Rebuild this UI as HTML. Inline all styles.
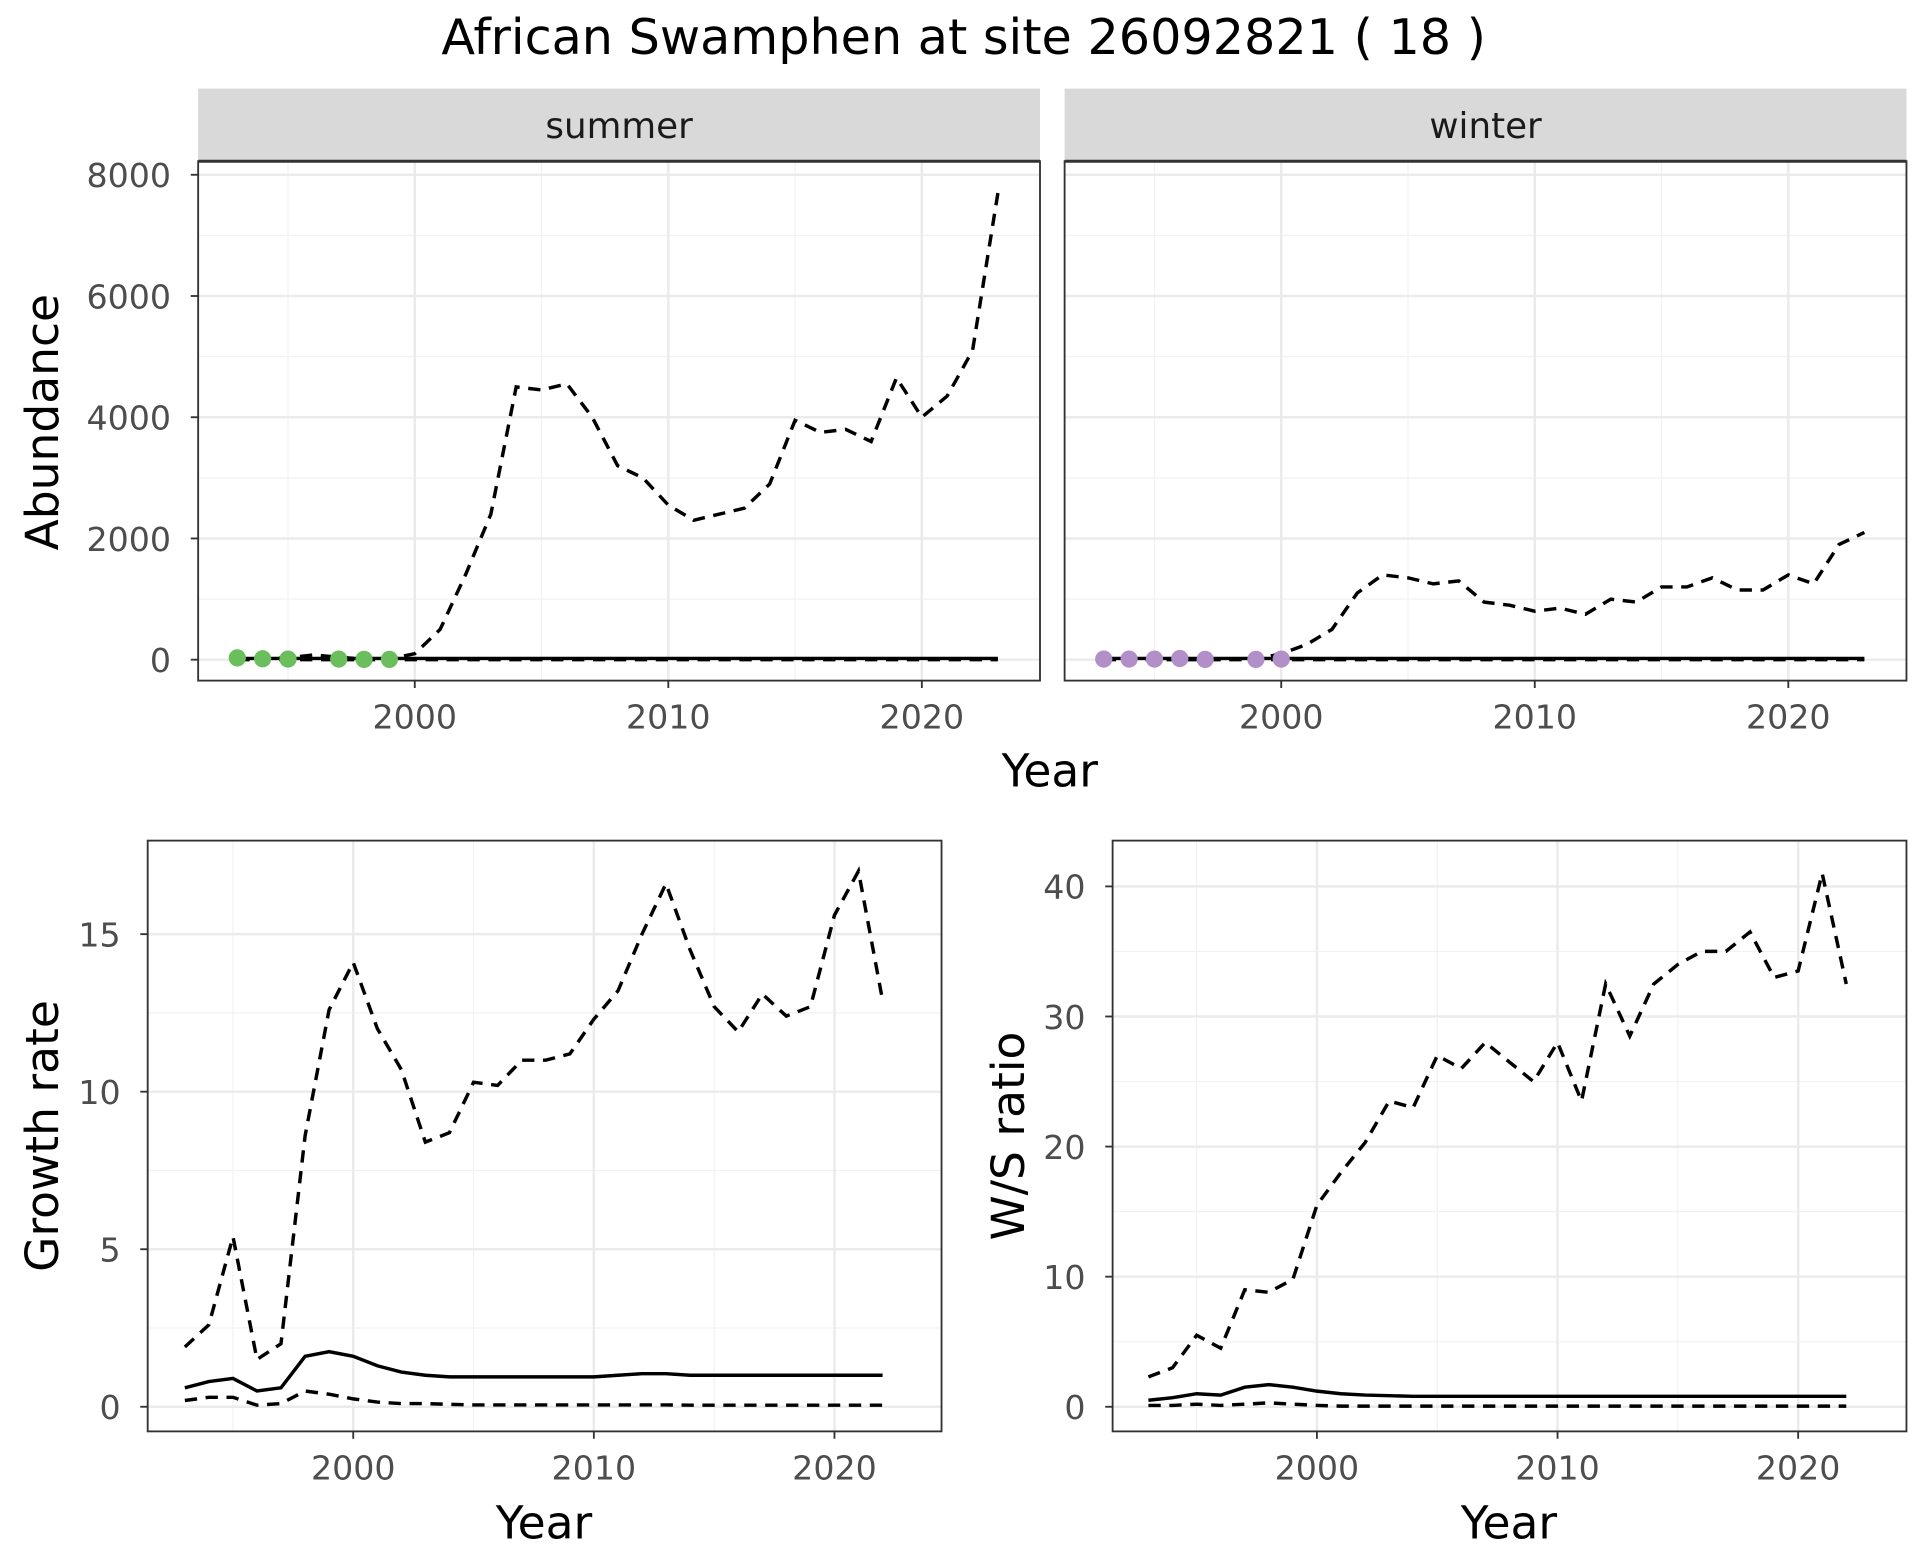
<!DOCTYPE html>
<html><head><meta charset="utf-8">
<style>
html,body{margin:0;padding:0;background:#fff;}
svg{display:block;font-family:"DejaVu Sans","Liberation Sans",sans-serif;}
</style></head>
<body>
<svg id="chart" width="1920" height="1560" viewBox="0 0 1560 1267.5" xmlns="http://www.w3.org/2000/svg">
<text x="783" y="44" font-size="40" text-anchor="middle" fill="#000">African Swamphen at site 26092821 ( 18 )</text>
</svg>
<script>
// ---- data ----
const absYears = [1993,1994,1995,1996,1997,1998,1999,2000,2001,2002,2003,2004,2005,2006,2007,2008,2009,2010,2011,2012,2013,2014,2015,2016,2017,2018,2019,2020,2021,2022,2023];
const summerUpper = [10,20,30,80,40,10,10,100,500,1400,2400,4500,4450,4550,4000,3200,3000,2550,2300,2400,2500,2900,3950,3750,3800,3600,4650,4000,4350,5100,7700];
const summerMean = absYears.map(()=>20);
const summerLower = absYears.map(()=>0);
const summerPtYears = [1993,1994,1995,1997,1998,1999];
const summerPtVals = [30,15,10,10,5,5];
const winterUpper = [10,10,10,20,10,10,10,100,250,500,1100,1400,1350,1250,1300,950,900,800,850,750,1000,950,1200,1200,1350,1150,1150,1400,1250,1900,2100];
const winterMean = absYears.map(()=>20);
const winterLower = absYears.map(()=>0);
const winterPtYears = [1993,1994,1995,1996,1997,1999,2000];
const winterPtVals = [10,10,10,20,5,5,10];
const grYears = [1993,1994,1995,1996,1997,1998,1999,2000,2001,2002,2003,2004,2005,2006,2007,2008,2009,2010,2011,2012,2013,2014,2015,2016,2017,2018,2019,2020,2021,2022];
const grUpper = [1.9,2.6,5.4,1.5,2.0,8.6,12.6,14.1,12.0,10.7,8.4,8.7,10.3,10.2,11.0,11.0,11.2,12.3,13.2,15.0,16.6,14.5,12.7,11.9,13.1,12.4,12.7,15.6,17.0,12.9];
const grMean = [0.6,0.8,0.9,0.5,0.6,1.6,1.75,1.6,1.3,1.1,1.0,0.95,0.95,0.95,0.95,0.95,0.95,0.95,1.0,1.05,1.05,1.0,1.0,1.0,1.0,1.0,1.0,1.0,1.0,1.0];
const grLower = [0.2,0.3,0.3,0.05,0.1,0.5,0.4,0.25,0.15,0.1,0.1,0.08,0.06,0.06,0.06,0.06,0.06,0.06,0.06,0.06,0.06,0.05,0.05,0.05,0.05,0.05,0.05,0.05,0.05,0.05];
const wsUpper = [2.3,3.0,5.5,4.5,9.0,8.8,9.8,15.5,18,20.3,23.5,23.0,27,26,28,26.5,25,28,23.5,32.5,28.5,32.5,34,35,35,36.5,33,33.5,41,32.5];
const wsMean = [0.5,0.7,1.0,0.9,1.5,1.7,1.5,1.2,1.0,0.9,0.85,0.8,0.8,0.8,0.8,0.8,0.8,0.8,0.8,0.8,0.8,0.8,0.8,0.8,0.8,0.8,0.8,0.8,0.8,0.8];
const wsLower = [0.1,0.1,0.2,0.1,0.2,0.3,0.2,0.1,0.05,0.05,0.05,0.05,0.05,0.05,0.05,0.05,0.05,0.05,0.05,0.05,0.05,0.05,0.05,0.05,0.05,0.05,0.05,0.05,0.05,0.05];
const xTicks = [2000,2010,2020];
const absTicks = [0,2000,4000,6000,8000];
const grTicks = [0,5,10,15];
const wsTicks = [0,10,20,30,40];

const svg = document.getElementById('chart');
const NS = 'http://www.w3.org/2000/svg';
function mk(tag, attrs, parent){const e=document.createElementNS(NS,tag);for(const k in attrs)e.setAttribute(k,attrs[k]);(parent||svg).appendChild(e);return e;}

function panel(o){
  const g = mk('g',{});
  
  
  const xs = v => o.x0 + (v - o.xa) * o.xk;
  const ys = v => o.y0 - v * o.yk;
  o.xMinor.forEach(v=>{const l=mk('line',{x1:xs(v),x2:xs(v),y1:o.top,y2:o.bot,stroke:'#f2f2f2','stroke-width':1},g);});
  o.yMinor.forEach(v=>{const l=mk('line',{x1:o.left,x2:o.right,y1:ys(v),y2:ys(v),stroke:'#f2f2f2','stroke-width':1},g);});
  xTicks.forEach(v=>{const l=mk('line',{x1:xs(v),x2:xs(v),y1:o.top,y2:o.bot,stroke:'#ebebeb','stroke-width':2},g);});
  o.yTicks.forEach(v=>{const l=mk('line',{x1:o.left,x2:o.right,y1:ys(v),y2:ys(v),stroke:'#ebebeb','stroke-width':2},g);});
  const line=(ys_,vals,dash,nm)=>{const d=vals.map((v,i)=>(i?'L':'M')+xs(ys_[i]).toFixed(1)+','+ys(v).toFixed(1)).join('');const p=mk('path',{d:d,fill:'none',stroke:'#000','stroke-width':2.8,'stroke-dasharray':dash?'10,7':'none'},g);};
  line(o.years,o.upper,true,'upper-bound-line');
  line(o.years,o.lower,true,'lower-bound-line');
  line(o.years,o.mean,false,'mean-line');
  if(o.ptY){o.ptY.forEach((yr,i)=>{const c=mk('circle',{cx:xs(yr),cy:ys(o.ptV[i]),r:7,fill:o.ptC},g);});}
  const b=mk('rect',{x:o.left,y:o.top,width:o.right-o.left,height:o.bot-o.top,fill:'none',stroke:'#333','stroke-width':1.5},g);
  
  xTicks.forEach(v=>{mk('line',{x1:xs(v),x2:xs(v),y1:o.bot,y2:o.bot+6,stroke:'#333','stroke-width':1.5},g);const t=mk('text',{x:xs(v),y:o.bot+39,'font-size':27,'text-anchor':'middle',fill:'#4d4d4d'},g);t.textContent=v;});
  if(o.showY){o.yTicks.forEach(v=>{mk('line',{x1:o.left-6,x2:o.left,y1:ys(v),y2:ys(v),stroke:'#333','stroke-width':1.5},g);const t=mk('text',{x:o.left-22,y:ys(v)+10,'font-size':27,'text-anchor':'end',fill:'#4d4d4d'},g);t.textContent=v;});}
  if(o.strip){const r=mk('rect',{x:o.left,y:72,width:o.right-o.left,height:o.top-72,fill:'#d9d9d9'},g);
    mk('line',{x1:o.left,x2:o.right,y1:o.top,y2:o.top,stroke:'#333','stroke-width':2.5},g);
    const t=mk('text',{x:(o.left+o.right)/2,y:112,'font-size':29,'text-anchor':'middle',fill:'#1a1a1a'},g);t.textContent=o.strip;}
}
const topCommon={top:131,bot:553,y0:536,yk:394/8000,xa:2000,xk:20.6,years:absYears,yTicks:absTicks,xMinor:[1995,2005,2015],yMinor:[1000,3000,5000,7000]};
panel(Object.assign({},topCommon,{name:'summer-panel',left:161,right:845,x0:337,upper:summerUpper,mean:summerMean,lower:summerLower,ptY:summerPtYears,ptV:summerPtVals,ptC:'#6abe5b',showY:true,strip:'summer'}));
panel(Object.assign({},topCommon,{name:'winter-panel',left:865,right:1549,x0:1041,upper:winterUpper,mean:winterMean,lower:winterLower,ptY:winterPtYears,ptV:winterPtVals,ptC:'#b28fc8',showY:false,strip:'winter'}));
panel({name:'growth-rate-panel',left:120,right:765,top:683,bot:1163,x0:287,xa:2000,xk:19.55,y0:1143,yk:25.6,years:grYears,upper:grUpper,mean:grMean,lower:grLower,yTicks:grTicks,xMinor:[1995,2005,2015],yMinor:[2.5,7.5,12.5],showY:true});
panel({name:'ws-ratio-panel',left:904,right:1549,top:683,bot:1163,x0:1070,xa:2000,xk:19.55,y0:1143,yk:10.57,years:grYears,upper:wsUpper,mean:wsMean,lower:wsLower,yTicks:wsTicks,xMinor:[1995,2005,2015],yMinor:[5,15,25,35],showY:true});
function title(txt,x,y,rot,nm){const t=mk('text',{x:x,y:y,'font-size':37,'text-anchor':'middle',fill:'#000',transform:rot?`rotate(-90 ${x} ${y})`:''});t.textContent=txt;}
title('Year',853,639,false,'top-x-axis-title');
title('Abundance',47,343,true,'abundance-axis-title');
title('Growth rate',47,923,true,'growth-rate-axis-title');
title('Year',442,1250,false,'growth-x-axis-title');
title('Year',1226,1250,false,'ratio-x-axis-title');
title('W/S ratio',832,923,true,'ws-ratio-axis-title');
</script>
</body></html>
